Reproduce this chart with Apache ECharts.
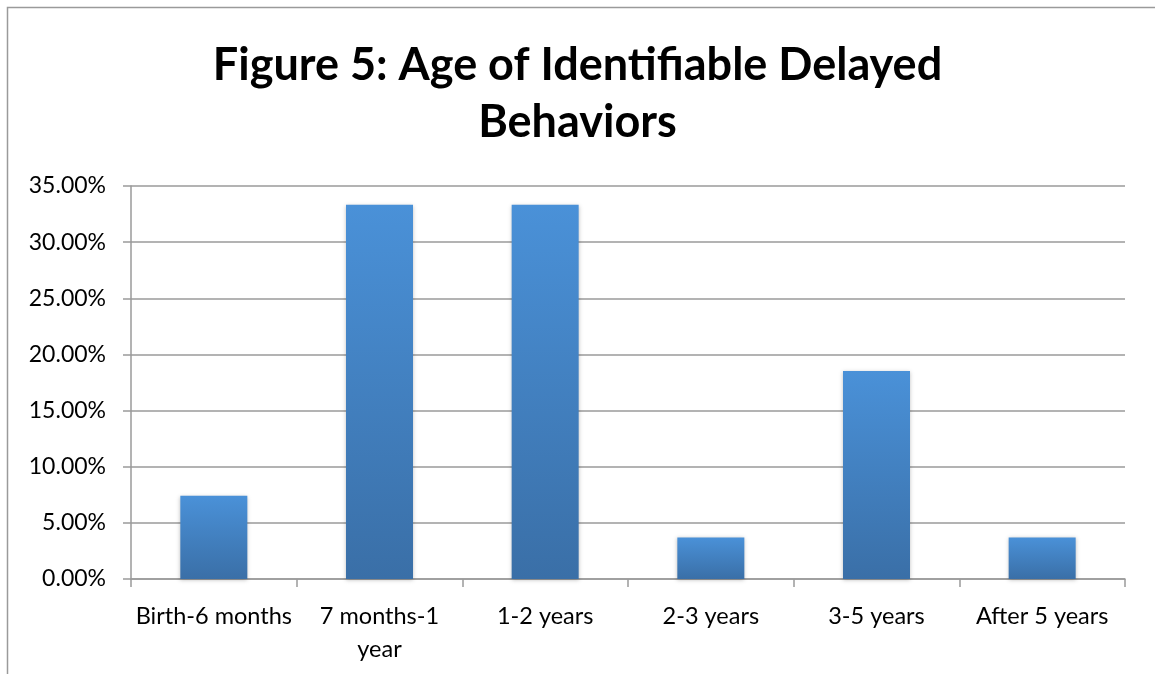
<!DOCTYPE html>
<html>
<head>
<meta charset="utf-8">
<title>Figure 5</title>
<script src="https://cdn.jsdelivr.net/npm/echarts@6/dist/echarts.min.js"></script>
<style>
    html, body { margin: 0; padding: 0; background: #fff; }
    #chart { width: 1155px; height: 674px; }
</style>
</head>
<body>
<div id="chart"></div>
<script>
var categories = ['Birth-6 months', '7 months-1\nyear', '1-2 years', '2-3 years', '3-5 years', 'After 5 years'];
var shares = [7.41, 33.33, 33.33, 3.70, 18.52, 3.70];
var yTicks = { min: 0, max: 35, step: 5 };

var chart = echarts.init(document.getElementById('chart'));
var fontFam = 'Lato, "Open Sans", sans-serif';

var option = {
    animation: false,
    backgroundColor: '#fff',
    title: {
        text: 'Figure 5: Age of Identifiable Delayed\nBehaviors',
        left: 'center',
        top: 32,
        textStyle: {
            fontFamily: fontFam,
            fontWeight: 'bold',
            fontSize: 45,
            lineHeight: 57,
            color: '#000'
        }
    },
    graphic: [{
        type: 'rect',
        shape: { x: 7.5, y: 7.5, width: 1200, height: 700 },
        style: { fill: 'none', stroke: '#9a9a9a', lineWidth: 1.5 },
        silent: true
    }],
    grid: { left: 131, right: 30, top: 186, bottom: 95 },
    xAxis: {
        type: 'category',
        data: categories,
        boundaryGap: true,
        axisLine: { lineStyle: { color: '#9a9a9a', width: 1.5 } },
        axisTick: { show: true, length: 8, lineStyle: { color: '#9a9a9a', width: 1.5 } },
        axisLabel: {
            interval: 0,
            margin: 21,
            fontFamily: fontFam,
            fontSize: 23.5,
            lineHeight: 33,
            color: '#000'
        }
    },
    yAxis: {
        type: 'value',
        min: yTicks.min,
        max: yTicks.max,
        interval: yTicks.step,
        axisLine: { show: true, lineStyle: { color: '#9a9a9a', width: 1.5 } },
        axisTick: { show: true, length: 8, lineStyle: { color: '#9a9a9a', width: 1.5 } },
        splitLine: { lineStyle: { color: '#9a9a9a', width: 1.5 } },
        axisLabel: {
            margin: 25,
            fontFamily: fontFam,
            fontSize: 23,
            color: '#000',
            formatter: function (v) { return v.toFixed(2) + '%'; }
        }
    },
    series: [{
        type: 'bar',
        data: shares,
        barWidth: 67,
        itemStyle: {
            color: new echarts.graphic.LinearGradient(0, 0, 0, 1, [
                { offset: 0, color: '#4a91d8' },
                { offset: 1, color: '#3a6fa7' }
            ]),
            shadowColor: 'rgba(0,0,0,0.25)',
            shadowBlur: 4,
            shadowOffsetY: 1
        }
    }]
};

chart.setOption(option);
</script>
</body>
</html>
